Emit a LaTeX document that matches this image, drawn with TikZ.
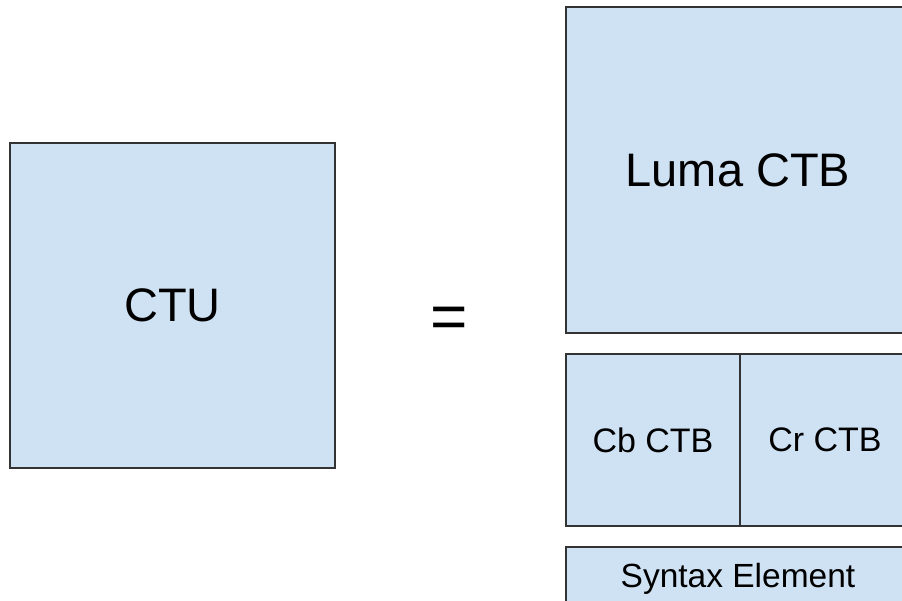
\documentclass[tikz,border=0pt]{standalone}
\usepackage{fontspec}
\setmainfont{Liberation Sans}
\usetikzlibrary{positioning}

\definecolor{ctbfill}{HTML}{CFE2F3}
\definecolor{ctbline}{HTML}{333333}

\tikzset{
	ctbbox/.style={draw=ctbline, fill=ctbfill, line width=1.6pt, inner sep=0pt,
		rectangle, text=black},
}

\begin{document}
\begin{tikzpicture}[x=1pt,y=-1pt]
		
		\clip (0,0) rectangle (902,600);
		\fill[white] (0,0) rectangle (902,600);
		
		% the coding tree unit
		\node[ctbbox, minimum width=325pt, minimum height=325pt,
			font=\fontsize{47}{50}\selectfont] (CTU) at (172.5,305.5) {CTU};
		
		\node[font=\fontsize{64}{70}\selectfont] (eq) at (449,323) {=};
		
		% its blocks, cut off at the right
		\node[ctbbox, minimum width=344pt, minimum height=326pt,
			font=\fontsize{47}{50}\selectfont] (luma) at (738,170) {Luma CTB};
		\node[ctbbox, minimum width=174pt, minimum height=172pt,
			font=\fontsize{34}{38}\selectfont] (cb) at (653,440) {Cb CTB};
		\node[ctbbox, minimum width=170pt, minimum height=172pt,
			font=\fontsize{34}{38}\selectfont] (cr) at (825,440) {Cr CTB};
		\node[ctbbox, minimum width=344pt, minimum height=63pt,
			font=\fontsize{33.5}{36}\selectfont] (syntax) at (738,578.5) {Syntax Element};
		
\end{tikzpicture}
\end{document}
